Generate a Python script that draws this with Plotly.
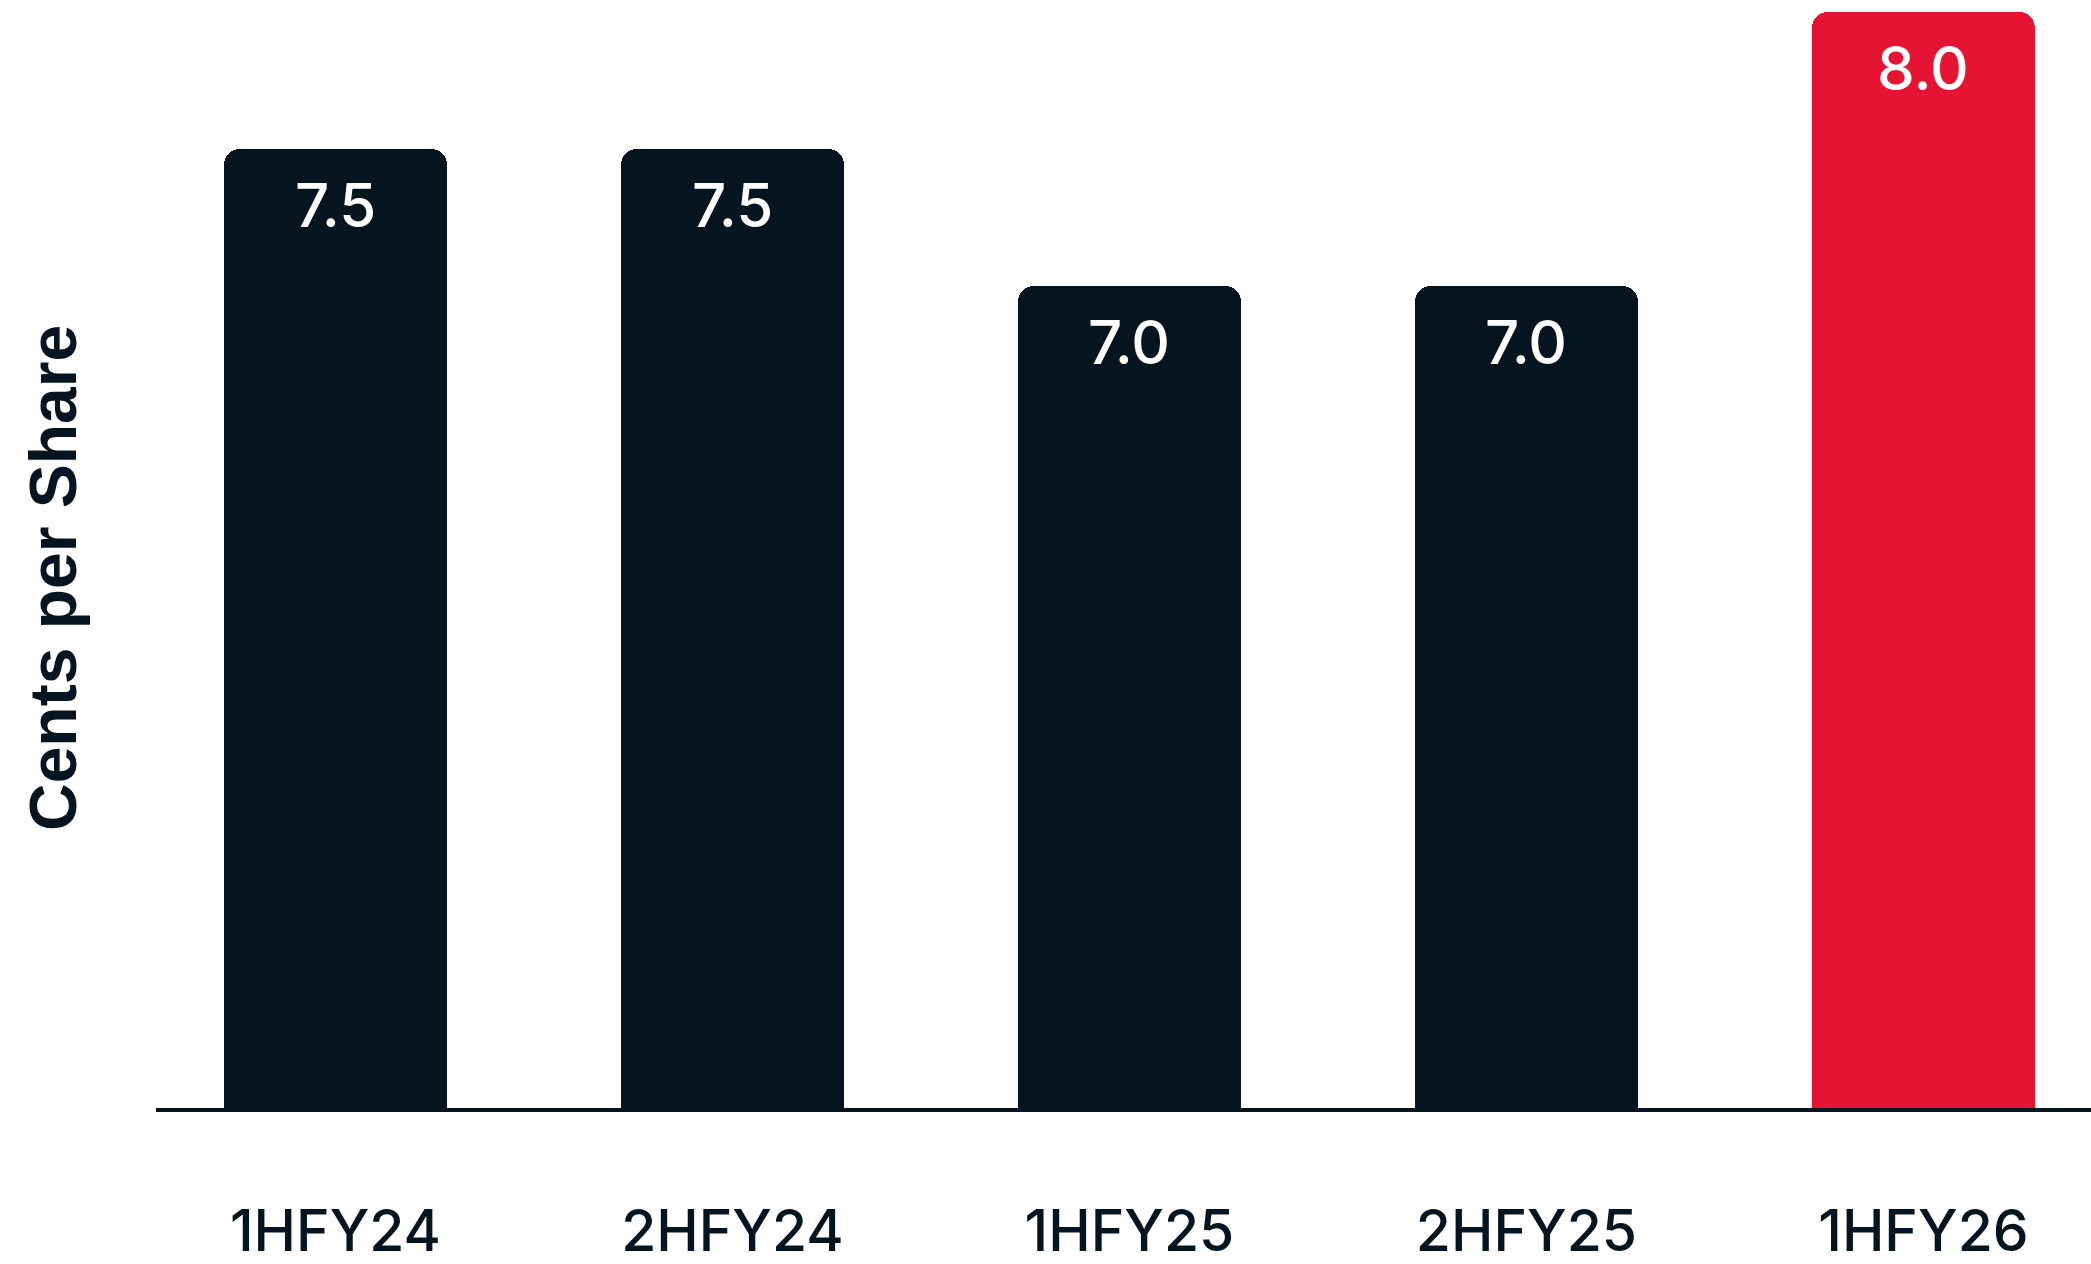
import plotly.graph_objects as go

# Interim dividend per share, in cents
periods = ["1HFY24", "2HFY24", "1HFY25", "2HFY25", "1HFY26"]
cents = [7.5, 7.5, 7.0, 7.0, 8.0]
labels = ["7.5", "7.5", "7.0", "7.0", "8.0"]

NAVY = "#051520"
RED = "#E71333"
colors = [NAVY, NAVY, NAVY, NAVY, RED]

W, H = 2091, 1264
M_L, M_B = 156, 156
PW, PH = W - M_L, H - M_B

fig = go.Figure(
    go.Bar(
        x=list(range(len(periods))),
        y=cents,
        width=0.56,
        marker=dict(color=colors, line=dict(width=0), cornerradius=16),
        hoverinfo="skip",
    )
)

# value labels sitting just inside the top of each bar
for i, (v, t) in enumerate(zip(cents, labels)):
    fig.add_annotation(
        x=i, y=v, xref="x", yref="y", text=t, showarrow=False,
        yanchor="top", yshift=-18,
        font=dict(family="Inter", size=60, color="white", weight=500),
    )

# y-axis title
fig.add_annotation(
    x=(53 - M_L) / PW, y=(PH - 578) / PH, xref="paper", yref="paper",
    text="<b>Cents per Share</b>", textangle=-90, showarrow=False,
    xanchor="center", yanchor="middle",
    font=dict(family="Liberation Sans", size=66, color=NAVY),
)

fig.update_layout(
    width=W, height=H,
    margin=dict(l=M_L, r=0, t=0, b=M_B, pad=0, autoexpand=False),
    paper_bgcolor="white", plot_bgcolor="white",
    showlegend=False,
    bargap=0,
    xaxis=dict(
        range=[-0.452, 4.422],
        tickmode="array", tickvals=list(range(len(periods))), ticktext=periods,
        tickfont=dict(family="Inter", size=57, color=NAVY, weight=500),
        showgrid=False, zeroline=False, automargin=False,
        showline=True, linecolor=NAVY, linewidth=4,
        ticks="", ticklabelstandoff=71,
    ),
    yaxis=dict(
        range=[4, 4 + PH / 274],
        showgrid=False, zeroline=False, showline=False, automargin=False,
        showticklabels=False, ticks="",
    ),
)

fig.write_html("out.html")
